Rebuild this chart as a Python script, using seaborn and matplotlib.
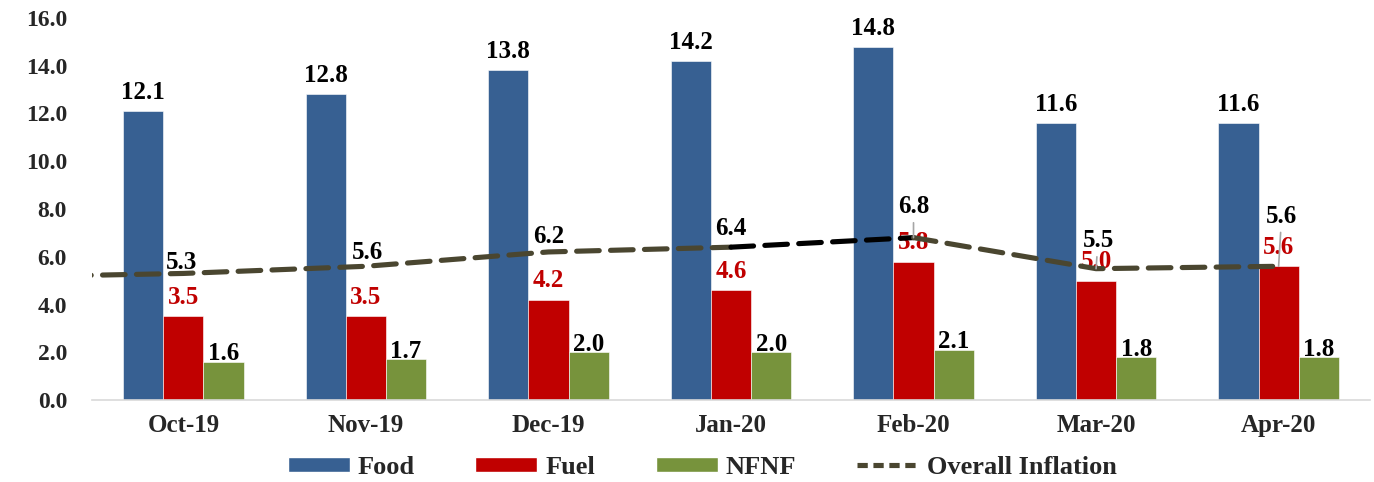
import pandas as pd
import numpy as np
import matplotlib.pyplot as plt
import seaborn as sns
from matplotlib.patches import Patch
from matplotlib.lines import Line2D

# data
months = ['Oct-19', 'Nov-19', 'Dec-19', 'Jan-20', 'Feb-20', 'Mar-20', 'Apr-20']
food = [12.1, 12.8, 13.8, 14.2, 14.8, 11.6, 11.6]
fuel = [3.5, 3.5, 4.2, 4.6, 5.8, 5.0, 5.6]
nfnf = [1.6, 1.7, 2.0, 2.0, 2.1, 1.8, 1.8]
overall = [5.3, 5.6, 6.2, 6.4, 6.8, 5.5, 5.6]
overall_prev = 5.15  # earlier month, only the tail shows at the left edge

series = ['Food', 'Fuel', 'NFNF']
colors = ['#376092', '#C00000', '#77933C']
line_color = '#4A4630'

sns.set_style('white')
plt.rcParams['font.family'] = ['Liberation Serif', 'DejaVu Serif']
plt.rcParams['font.weight'] = 'bold'

df = pd.DataFrame({'month': months * 3,
                   'series': np.repeat(series, len(months)),
                   'value': food + fuel + nfnf})

fig = plt.figure(figsize=(13.74, 4.82), dpi=100)
ax = fig.add_axes([0.067, 0.170, 0.930, 0.793])

sns.barplot(data=df, x='month', y='value', hue='series', order=months,
            hue_order=series, palette=colors, width=0.66, gap=0,
            saturation=1, edgecolor='white', linewidth=0.4, legend=False, ax=ax)

# bar labels
pads = [5, 5.5, -2.5]
lab_colors = ['black', '#C00000', 'black']
for cont, pad, c in zip(ax.containers, pads, lab_colors):
    ax.bar_label(cont, fmt='%.1f', padding=pad, color=c, fontsize=18,
                 fontweight='bold')

# overall inflation line, drawn in pieces: the Jan-Feb piece is black
xs = np.arange(len(months))
line_df = pd.DataFrame({'x': np.r_[-1, xs], 'y': [overall_prev] + overall})
pieces = [(line_df.iloc[0:5], line_color),
          (line_df.iloc[4:6], 'black'),
          (line_df.iloc[5:], line_color)]
for part, col in pieces:
    sns.lineplot(data=part, x='x', y='y', ax=ax, color=col, lw=3.7, zorder=5)
    ax.lines[-1].set_linestyle((0, (4.4, 2.2)))
    ax.lines[-1].set_dash_capstyle('round')

# line labels (centre offsets in pixels), leader lines for the last three
offs = [(-2, 11), (2, 14), (0, 15), (0, 19), (0, 31), (2, 28), (3, 50)]
for i, (v, (dx, dy)) in enumerate(zip(overall, offs)):
    kw = dict(xy=(i, v), xytext=(dx, dy), textcoords='offset pixels',
              ha='center', va='center', fontsize=18, fontweight='bold',
              color='black', zorder=7)
    if i >= 4:
        kw['arrowprops'] = dict(arrowstyle='-', color='#A6A6A6', lw=1.2,
                                shrinkA=1, shrinkB=0)
    ax.annotate(f'{v:.1f}', **kw)

ax.set_xlim(-0.5, 6.5)
ax.set_ylim(0, 16)
yt = np.arange(0, 16.1, 2)
ax.set_yticks(yt)
ax.set_yticklabels([f'{t:.1f}' for t in yt])
ax.set_xlabel('')
ax.set_ylabel('')
ax.tick_params(axis='both', length=0)
ax.tick_params(axis='y', labelsize=17, pad=18)
ax.tick_params(axis='x', labelsize=18, pad=10)
for lab in ax.get_xticklabels() + ax.get_yticklabels():
    lab.set_fontweight('bold')
for s in ['top', 'right', 'left']:
    ax.spines[s].set_visible(False)
ax.spines['bottom'].set_color('#D9D9D9')
ax.spines['bottom'].set_linewidth(1.2)

handles = [Patch(facecolor=c, label=s) for c, s in zip(colors, series)]
handles.append(Line2D([0], [0], color=line_color, lw=3.7,
                      linestyle=(0, (2.0, 1.1)), label='Overall Inflation'))
fig.legend(handles=handles, loc='center', bbox_to_anchor=(0.511, 0.031),
           ncol=4, frameon=False, handlelength=2.35, handleheight=0.5,
           columnspacing=2.3, handletextpad=0.3,
           prop={'weight': 'bold', 'size': 19})

fig.savefig('out.png', dpi=100)
